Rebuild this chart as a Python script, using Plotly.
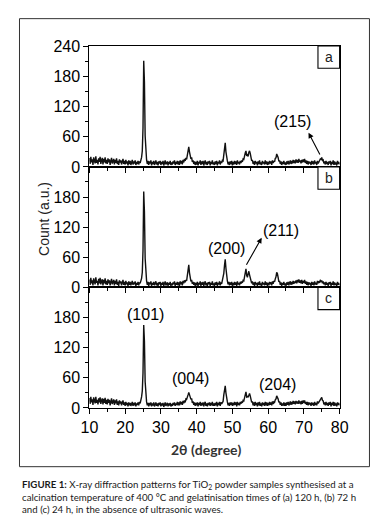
import numpy as np
import plotly.graph_objects as go

# ---------------- data ----------------
two_theta = np.round(np.arange(0, 351) * 0.2 + 10.0, 1)   # 10.0 ... 80.0 deg, 0.2 deg step

count_a = [
    18, 6, 20, 9, 15, 4, 19, 11, 7, 21, 8, 14, 5, 17, 10, 20, 6, 13, 18, 5, 16, 9, 19, 7, 14,
    6, 17, 9, 15, 4, 13, 18, 7, 12, 16, 5, 14, 8, 17, 6, 12, 4, 15, 9, 13, 5, 11, 16, 6, 12,
    5, 14, 7, 11, 3, 13, 6, 12, 4, 10, 14, 5, 11, 7, 13, 4, 10, 6, 12, 5, 11, 8, 14, 19, 32,
    78, 211, 168, 62, 28, 14, 6, 12, 4, 11, 7, 13, 3, 10, 6, 12, 4, 9, 13, 5, 10, 3, 11, 7, 12,
    4, 10, 6, 12, 3, 9, 13, 5, 8, 11, 3, 10, 6, 12, 4, 9, 5, 11, 7, 13, 4, 10, 6, 12, 5,
    11, 4, 13, 7, 12, 5, 14, 9, 16, 12, 18, 15, 24, 33, 40, 30, 24, 16, 19, 10, 13, 6, 11, 4, 10,
    5, 12, 3, 10, 7, 13, 4, 11, 6, 12, 3, 9, 13, 5, 10, 4, 11, 7, 12, 3, 10, 6, 13, 5, 9,
    4, 11, 6, 12, 3, 10, 7, 13, 5, 11, 8, 13, 12, 21, 34, 48, 30, 15, 12, 5, 10, 4, 11, 6, 12,
    3, 10, 5, 12, 6, 11, 4, 13, 7, 10, 5, 12, 8, 13, 10, 16, 15, 24, 28, 32, 22, 24, 21, 29, 32,
    27, 20, 12, 14, 6, 11, 4, 12, 7, 10, 3, 11, 6, 13, 5, 9, 4, 12, 7, 10, 5, 13, 6, 11, 4,
    10, 5, 12, 7, 11, 4, 13, 8, 12, 10, 17, 18, 26, 23, 19, 11, 13, 6, 11, 4, 10, 6, 12, 5, 9,
    4, 11, 6, 12, 5, 10, 13, 6, 12, 7, 14, 8, 13, 7, 15, 9, 14, 8, 16, 10, 13, 7, 14, 9, 15,
    10, 16, 8, 13, 6, 12, 5, 11, 7, 10, 4, 12, 6, 11, 5, 13, 7, 10, 4, 12, 7, 11, 12, 16, 15,
    19, 13, 14, 7, 11, 5, 12, 6, 10, 4, 11, 7, 12, 3, 10, 6, 13, 4, 11, 5, 9, 3, 12, 6, 10,
    5,
]

count_b = [
    16, 5, 19, 8, 14, 4, 18, 10, 6, 20, 9, 13, 4, 17, 8, 19, 6, 12, 16, 4, 15, 8, 18, 6, 13,
    5, 16, 8, 14, 4, 12, 17, 6, 11, 15, 4, 13, 7, 16, 5, 11, 3, 14, 8, 12, 4, 10, 15, 5, 11,
    4, 13, 6, 10, 3, 12, 5, 11, 4, 9, 13, 5, 10, 6, 12, 3, 9, 5, 11, 4, 10, 8, 13, 18, 30,
    74, 191, 150, 58, 26, 13, 5, 11, 3, 10, 6, 12, 3, 9, 5, 11, 4, 8, 12, 4, 9, 3, 10, 6, 11,
    3, 9, 5, 11, 3, 8, 12, 4, 7, 10, 3, 9, 5, 11, 3, 8, 4, 10, 6, 12, 3, 9, 5, 11, 4,
    10, 3, 12, 6, 11, 4, 13, 8, 14, 10, 15, 13, 21, 34, 45, 29, 18, 12, 15, 7, 11, 5, 10, 3, 9,
    4, 11, 3, 9, 6, 12, 3, 10, 5, 11, 3, 8, 12, 4, 9, 3, 10, 6, 11, 3, 9, 5, 12, 4, 8,
    3, 10, 5, 11, 3, 9, 6, 12, 4, 10, 7, 14, 15, 28, 44, 56, 38, 19, 13, 6, 11, 4, 10, 5, 11,
    3, 9, 4, 11, 5, 10, 3, 12, 6, 9, 4, 11, 7, 12, 9, 14, 13, 22, 33, 37, 24, 20, 27, 32, 25,
    18, 13, 8, 12, 5, 10, 3, 11, 6, 9, 3, 10, 5, 12, 4, 8, 3, 11, 6, 9, 4, 12, 5, 10, 3,
    9, 4, 11, 6, 10, 4, 12, 7, 13, 11, 17, 21, 30, 27, 20, 11, 13, 5, 10, 3, 9, 5, 11, 4, 8,
    3, 10, 5, 11, 4, 9, 12, 5, 11, 6, 13, 7, 12, 9, 14, 8, 15, 10, 16, 9, 14, 8, 15, 7, 13,
    9, 15, 7, 12, 5, 11, 4, 10, 6, 9, 3, 11, 5, 10, 4, 12, 6, 9, 5, 13, 8, 12, 9, 15, 11,
    14, 8, 12, 6, 10, 4, 11, 5, 9, 3, 10, 6, 11, 3, 9, 5, 12, 4, 10, 5, 8, 3, 11, 5, 9,
    4,
]

count_c = [
    20, 8, 22, 11, 17, 6, 21, 12, 9, 22, 10, 16, 7, 19, 11, 21, 8, 15, 19, 7, 18, 10, 20, 8, 16,
    7, 18, 10, 16, 5, 15, 19, 8, 13, 17, 6, 15, 9, 17, 6, 13, 5, 15, 9, 13, 5, 12, 15, 6, 11,
    4, 12, 6, 10, 3, 11, 5, 10, 4, 9, 12, 4, 10, 5, 11, 3, 9, 6, 11, 5, 12, 9, 15, 22, 34,
    70, 165, 132, 52, 24, 12, 5, 10, 3, 10, 5, 11, 3, 9, 5, 11, 3, 8, 11, 4, 9, 3, 10, 6, 11,
    3, 9, 5, 10, 2, 8, 11, 4, 7, 10, 3, 9, 5, 10, 3, 8, 4, 10, 6, 11, 4, 9, 6, 12, 5,
    11, 5, 13, 7, 12, 6, 14, 9, 15, 11, 18, 17, 25, 26, 31, 25, 24, 17, 19, 10, 13, 6, 11, 4, 10,
    5, 11, 3, 10, 6, 12, 4, 10, 5, 11, 3, 9, 12, 4, 9, 3, 10, 6, 11, 4, 10, 5, 12, 4, 9,
    4, 10, 5, 12, 3, 10, 6, 12, 4, 11, 8, 13, 13, 26, 38, 44, 30, 15, 12, 5, 10, 4, 11, 6, 11,
    4, 10, 5, 12, 6, 11, 3, 12, 6, 10, 5, 12, 8, 13, 10, 15, 14, 22, 28, 32, 22, 23, 21, 28, 29,
    24, 17, 11, 13, 5, 11, 4, 12, 6, 10, 3, 11, 5, 12, 4, 9, 3, 11, 6, 10, 4, 12, 5, 11, 4,
    10, 5, 12, 6, 11, 5, 13, 8, 12, 11, 16, 18, 24, 21, 18, 11, 13, 6, 11, 4, 9, 5, 11, 4, 10,
    4, 11, 6, 12, 5, 10, 13, 6, 12, 7, 14, 8, 13, 7, 14, 9, 13, 8, 15, 9, 13, 7, 14, 8, 15,
    10, 15, 8, 12, 6, 12, 5, 11, 7, 10, 4, 11, 6, 10, 4, 12, 6, 10, 5, 13, 9, 12, 13, 16, 19,
    21, 15, 14, 7, 11, 5, 12, 6, 10, 4, 11, 6, 12, 3, 10, 6, 12, 4, 11, 5, 9, 3, 11, 6, 10,
    5,
]

panel_letters = ["a", "b", "c"]
x_ticks = [10, 20, 30, 40, 50, 60, 70, 80]

# ---------------- layout helpers ----------------
W, H = 388, 526
def px(p):  # pixel -> paper x
    return p / W
def py(p):  # pixel -> paper y
    return 1 - p / H

X_L, X_R = 84.3, 346.7
panel_px = [(39.3, 164.3), (164.3, 288.7), (288.7, 413.3)]
FONT = "Liberation Sans, Arial, sans-serif"

fig = go.Figure()
series = [count_a, count_b, count_c]
for i, ys in enumerate(series):
    sfx = "" if i == 0 else str(i + 1)
    fig.add_trace(go.Scatter(x=two_theta, y=ys, mode="lines",
                             line=dict(color="#111111", width=1.4),
                             xaxis="x" + sfx, yaxis="y" + sfx, showlegend=False,
                             hoverinfo="skip"))

layout = dict(width=W, height=H, autosize=False,
              margin=dict(l=0, r=0, t=0, b=0),
              paper_bgcolor="white", plot_bgcolor="white",
              showlegend=False, font=dict(family=FONT, color="black"))

for i, (top, bot) in enumerate(panel_px):
    sfx = "" if i == 0 else str(i + 1)
    xa = dict(domain=[px(X_L), px(X_R)], range=[10, 80], anchor="y" + sfx,
              showline=True, mirror=True, linecolor="black", linewidth=1.2,
              ticks="outside", ticklen=5, tickwidth=1.1, tickcolor="black",
              tickmode="array", tickvals=x_ticks,
              minor=dict(dtick=5, tick0=0, ticks="outside", ticklen=3, tickcolor="black", tickwidth=1),
              showgrid=False, zeroline=False,
              showticklabels=(i == 2),
              tickfont=dict(family=FONT, size=16, color="black"))
    ya = dict(domain=[py(bot), py(top)],
              range=[0, 240] if i == 0 else [0, 239.9],
              anchor="x" + sfx,
              showline=True, mirror=True, linecolor="black", linewidth=1.2,
              ticks="outside", ticklen=5, tickwidth=1.1, tickcolor="black",
              tickmode="linear", tick0=0, dtick=60,
              minor=dict(dtick=30, tick0=0, ticks="outside", ticklen=3, tickcolor="black", tickwidth=1),
              showgrid=False, zeroline=False,
              tickfont=dict(family=FONT, size=16, color="black"))
    layout["xaxis" + sfx] = xa
    layout["yaxis" + sfx] = ya

fig.update_layout(**layout)

shapes = []
annots = []
# outer frame
shapes.append(dict(type="rect", xref="paper", yref="paper",
                   x0=px(11), x1=px(378), y0=py(474), y1=py(11),
                   line=dict(color="#333333", width=1)))
# panel letter boxes
for i, (top, bot) in enumerate(panel_px):
    shapes.append(dict(type="rect", xref="paper", yref="paper",
                       x0=px(324), x1=px(X_R), y0=py(top + 23), y1=py(top),
                       line=dict(color="black", width=1.1), fillcolor="white"))
    annots.append(dict(text=panel_letters[i], xref="paper", yref="paper",
                       x=px(335.5), y=py(top + 11.5), showarrow=False,
                       xanchor="center", yanchor="middle",
                       font=dict(family=FONT, size=14, color="#222222")))

# peak labels (data coords)
lab = dict(showarrow=False, xanchor="center", yanchor="middle",
           font=dict(family=FONT, size=16, color="black"))
annots += [
    dict(text="(215)", x=66.7, y=91, xref="x", yref="y", **lab),
    dict(text="(200)", x=48.4, y=77, xref="x2", yref="y2", **lab),
    dict(text="(211)", x=63.5, y=114, xref="x2", yref="y2", **lab),
    dict(text="(101)", x=25.6, y=186, xref="x3", yref="y3", **lab),
    dict(text="(004)", x=38.2, y=58, xref="x3", yref="y3", **lab),
    dict(text="(204)", x=62.7, y=47, xref="x3", yref="y3", **lab),
]
# arrows
arr = dict(text="", showarrow=True, arrowhead=2, arrowsize=1, arrowwidth=1.1,
           arrowcolor="black", standoff=0, startstandoff=0)
annots += [
    dict(x=71.3, y=68, ax=74.7, ay=22, xref="x", yref="y", axref="x", ayref="y", **arr),
    dict(x=58.2, y=99, ax=53.7, ay=42, xref="x2", yref="y2", axref="x2", ayref="y2", **arr),
]
# axis titles
annots.append(dict(text="Count (a.u.)", xref="paper", yref="paper", x=px(36.7), y=py(218),
                   textangle=-90, showarrow=False, xanchor="center", yanchor="middle",
                   font=dict(family=FONT, size=14, color="#222222")))
annots.append(dict(text="<b>2θ (degree)</b>", xref="paper", yref="paper", x=px(207), y=py(456),
                   showarrow=False, xanchor="center", yanchor="middle",
                   font=dict(family="Lato, Open Sans, sans-serif", size=14, color="#333333")))
# caption
cap_font = dict(family="Lato, Open Sans, sans-serif", size=9.7, color="#1a1a1a")
caption = [
    "<b>FIGURE 1:</b> X-ray diffraction patterns for TiO<sub>2</sub> powder samples synthesised at a",
    "calcination temperature of 400 °C and gelatinisation times of (a) 120 h, (b) 72 h",
    "and (c) 24 h, in the absence of ultrasonic waves.",
]
annots.append(dict(text="<br>".join(caption), xref="paper", yref="paper", x=px(11.5), y=py(484),
                   showarrow=False, xanchor="left", yanchor="top", align="left", font=cap_font))

fig.update_layout(shapes=shapes, annotations=annots)
fig.write_html("out.html", config={"displayModeBar": False},
               post_script="document.body.style.margin='0';document.body.style.padding='0';")
